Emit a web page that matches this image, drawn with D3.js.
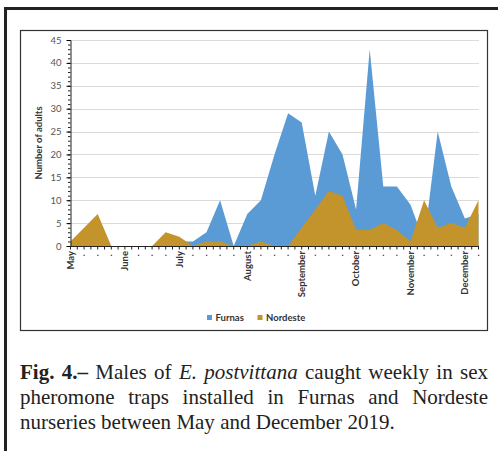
<!DOCTYPE html>
<html>
<head>
<meta charset="utf-8">
<script src="https://cdn.jsdelivr.net/npm/d3@7"></script>
<style>
body { margin: 0; background: #fff; }
svg { display: block; }
</style>
</head>
<body>
<div id="chart"></div>
<script>
// weekly catches, May - December 2019
const weeks = d3.range(31);
const furnas = [0, 0, 0, 0, 0, 0, 0, 0, 1, 1, 3, 10, 0, 7, 10, 20, 29, 27, 11, 25, 20, 8, 43, 13, 13, 9, 1, 25, 13, 6, 7];
const nordeste = [1, 4, 7, 0, 0, 0, 0, 3, 2, 0, 1, 1, 0, 0, 1, 0, 0, 4, 8, 12, 11, 3.5, 3.5, 5, 3.5, 1, 10, 4, 5, 4, 10];
const monthNames = ['May', 'June', 'July', 'August', 'September', 'October', 'November', 'December'];
const monthWeeks = [0, 4, 8, 13, 17, 21, 25, 29];
const yTicks = [0, 5, 10, 15, 20, 25, 30, 35, 40, 45];
const seriesNames = ['Furnas', 'Nordeste'];
const colors = ['#5b9bd5', '#c3942c'];

const captionLines = [
    [{t: 'Fig.', b: 1}, {t: '4.–', b: 1}, {t: 'Males'}, {t: 'of'}, {t: 'E.', i: 1}, {t: 'postvittana', i: 1}, {t: 'caught'}, {t: 'weekly'}, {t: 'in'}, {t: 'sex'}],
    [{t: 'pheromone'}, {t: 'traps'}, {t: 'installed'}, {t: 'in'}, {t: 'Furnas'}, {t: 'and'}, {t: 'Nordeste'}],
    [{t: 'nurseries'}, {t: 'between'}, {t: 'May'}, {t: 'and'}, {t: 'December'}, {t: '2019.'}]
];

let width = 498;
let height = 451;
const sans = 'Lato, "Open Sans", sans-serif';

let svg = d3.select('#chart')
    .append('svg')
    .attr('width', width)
    .attr('height', height);

// frames
svg.append('path')
    .attr('d', 'M5.5,451 V8.5 H520')
    .attr('fill', 'none')
    .attr('stroke', '#222')
    .attr('stroke-width', 3);

svg.append('rect')
    .attr('x', 20.5).attr('y', 30.5)
    .attr('width', 467).attr('height', 300)
    .attr('fill', 'none')
    .attr('stroke', '#333')
    .attr('stroke-width', 1.2);

let x = d3.scalePoint().domain(weeks).range([70.5, 478.5]);
let y = d3.scaleLinear().domain([0, 45]).range([246, 40]);

// grid
svg.append('g')
    .selectAll('line')
    .data(yTicks.filter(d => d > 0))
    .enter()
    .append('line')
    .attr('x1', 70).attr('x2', 479)
    .attr('y1', d => Math.round(y(d)) + 0.5)
    .attr('y2', d => Math.round(y(d)) + 0.5)
    .attr('stroke', '#dddada')
    .attr('stroke-width', 1);

// areas, Furnas behind Nordeste
let area = d3.area()
    .x((d, i) => x(i))
    .y0(y(0))
    .y1(d => y(d));

svg.append('g')
    .selectAll('path')
    .data([furnas, nordeste])
    .enter()
    .append('path')
    .attr('d', area)
    .attr('fill', (d, i) => colors[i]);

// y axis
let yAxis = svg.append('g').attr('transform', 'translate(70.5,0)');
yAxis.call(d3.axisLeft(y).tickValues(d3.range(0, 46)).tickSize(2.5).tickFormat(''));
yAxis.call(g => g.selectAll('.tick line').attr('stroke', '#222'));
let yMajor = svg.append('g').attr('transform', 'translate(70.5,0)')
    .call(d3.axisLeft(y).tickValues(yTicks).tickSize(4).tickPadding(5));
yMajor.select('.domain').remove();
yMajor.selectAll('text')
    .attr('font-family', sans)
    .attr('font-size', 9.5)
    .attr('fill', '#555');
yAxis.select('.domain').attr('stroke', '#222');

svg.append('text')
    .attr('transform', 'translate(42,143) rotate(-90)')
    .attr('text-anchor', 'middle')
    .attr('font-family', sans)
    .attr('font-size', 9.5)
    .attr('font-weight', 'bold')
    .attr('fill', '#333')
    .text('Number of adults');

// x axis
svg.append('line')
    .attr('x1', 70).attr('x2', 479)
    .attr('y1', 246.5).attr('y2', 246.5)
    .attr('stroke', '#222');

let halfSteps = d3.range(0, weeks.length - 0.5, 0.5);
svg.append('g')
    .selectAll('line')
    .data(halfSteps)
    .enter()
    .append('line')
    .attr('x1', d => x(0) + d * x.step())
    .attr('x2', d => x(0) + d * x.step())
    .attr('y1', 246.5).attr('y2', 249.5)
    .attr('stroke', '#222');

svg.append('g')
    .selectAll('text')
    .data(weeks.filter(w => monthWeeks.indexOf(w) < 0))
    .enter()
    .append('text')
    .attr('x', d => x(d))
    .attr('y', 256)
    .attr('text-anchor', 'middle')
    .attr('font-family', sans)
    .attr('font-size', 9)
    .attr('font-weight', 'bold')
    .attr('fill', '#333')
    .text('.');

svg.append('g')
    .selectAll('text')
    .data(monthWeeks)
    .enter()
    .append('text')
    .attr('transform', d => 'translate(' + x(d) + ',251) rotate(-90)')
    .attr('text-anchor', 'end')
    .attr('dy', '0.35em')
    .attr('font-family', sans)
    .attr('font-size', 9.5)
    .attr('font-weight', 'bold')
    .attr('fill', '#333')
    .text((d, i) => monthNames[i]);

// legend
let legendX = [207, 257.5];
let legend = svg.append('g')
    .selectAll('g')
    .data(seriesNames)
    .enter()
    .append('g')
    .attr('transform', (d, i) => 'translate(' + legendX[i] + ',317.5)');
legend.append('rect')
    .attr('x', 0).attr('y', -2.5)
    .attr('width', 5).attr('height', 5)
    .attr('fill', (d, i) => colors[i]);
legend.append('text')
    .attr('x', 8.5)
    .attr('dy', '0.35em')
    .attr('font-family', sans)
    .attr('font-size', 9.5)
    .attr('font-weight', 'bold')
    .attr('fill', '#333')
    .text(d => d);

// caption, justified by hand
let baselines = [379, 404, 429];
let capLeft = 20, capRight = 488;
captionLines.forEach(function(words, li) {
    let g = svg.append('g');
    let texts = g.selectAll('text')
        .data(words)
        .enter()
        .append('text')
        .attr('y', baselines[li])
        .attr('font-family', '"Liberation Serif", "Times New Roman", serif')
        .attr('font-size', 21)
        .attr('font-weight', d => d.b ? 'bold' : 'normal')
        .attr('font-style', d => d.i ? 'italic' : 'normal')
        .attr('fill', '#222')
        .text(d => d.t);
    let widths = texts.nodes().map(n => n.getComputedTextLength());
    let total = d3.sum(widths);
    let gap = li < captionLines.length - 1 ? (capRight - capLeft - total) / (words.length - 1) : 5.3;
    let pos = capLeft;
    texts.attr('x', function(d, i) {
        let p = pos;
        pos += widths[i] + gap;
        return p;
    });
});
</script>
</body>
</html>
